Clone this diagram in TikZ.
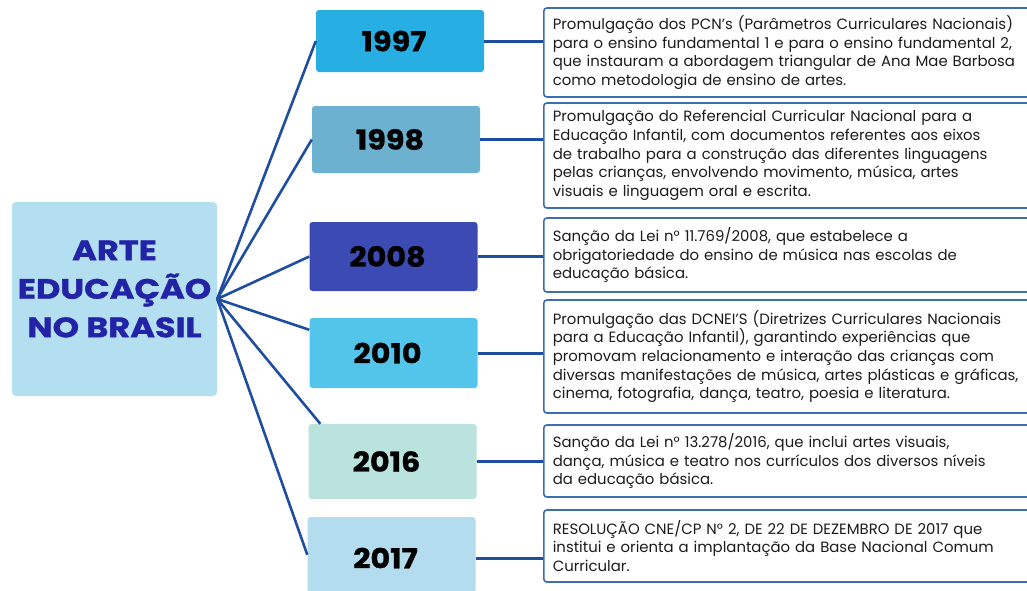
\documentclass[tikz,border=0pt]{standalone}
\usepackage{fontspec}
\setmainfont{Poppins}
\newfontfamily\titlefont{Poppins}[FakeStretch=1.2, FakeBold=1.2]
\newfontfamily\yearfont{Poppins}[FakeStretch=1.1, FakeBold=1]
\usetikzlibrary{calc}
\definecolor{c1997}{HTML}{27AEE2}
\definecolor{c1998}{HTML}{6CB2D0}
\definecolor{c2008}{HTML}{3C4AB3}
\definecolor{c2010}{HTML}{53C5EB}
\definecolor{c2016}{HTML}{B9E3DC}
\definecolor{c2017}{HTML}{B3DCEF}
\definecolor{ccentral}{HTML}{B3DFF0}
\definecolor{ctitle}{HTML}{2323A8}
\definecolor{cline}{HTML}{1F4EA0}
\definecolor{cborder}{HTML}{3D6DB3}
\definecolor{ctext}{HTML}{1C1C1C}
\tikzset{
  yearbox/.style={rectangle, rounded corners=3pt, draw=none, minimum width=168pt,
    font=\yearfont\fontsize{27.5}{30}\selectfont\bfseries, text=black, inner sep=0pt,
    execute at end node={\kern12pt}},
  centralbox/.style={rectangle, rounded corners=4pt, fill=ccentral, minimum width=205pt,
    minimum height=194pt, inner sep=0pt},
  centraltext/.style={align=center, text=ctitle, font=\titlefont\fontsize{28}{38.5}\selectfont\bfseries, inner sep=0pt},
  descbox/.style={rectangle, rounded corners=3pt, draw=cborder, line width=1.6pt, fill=white,
    anchor=west, align=left, text width=560pt, inner xsep=9pt, inner ysep=0pt,
    text=ctext, font=\fontsize{14.9}{18.6}\selectfont},
  spoke/.style={draw=cline, line width=2.6pt},
  conn/.style={draw=cline, line width=3pt},
}
\begin{document}
\begin{tikzpicture}[x=1pt,y=-1pt]
\useasboundingbox (0,0) rectangle (1027,590);
\clip (0,0) rectangle (1027,590);
\fill[white] (0,0) rectangle (1027,590);

% central
\node[centralbox] (c) at (114.5,299) {};
\node[centraltext] (ct) at (114.5,289) {ARTE\\EDUCAÇÃO\\NO BRASIL};

% years
\node[yearbox, fill=c1997, minimum height=62pt] (y1997) at (400,41) {1997};
\node[yearbox, fill=c1998, minimum height=67pt] (y1998) at (396,139.5) {1998};
\node[yearbox, fill=c2008, minimum height=69pt] (y2008) at (393.5,256.5) {2008};
\node[yearbox, fill=c2010, minimum height=70pt] (y2010) at (393.5,353) {2010};
\node[yearbox, fill=c2016, minimum height=75pt] (y2016) at (392.5,461.5) {2016};
\node[yearbox, fill=c2017, minimum height=82pt] (y2017) at (391.5,558) {2017};

% descriptions
\node[descbox, minimum height=89pt] (d1) at (543,52.5) {Promulgação dos PCN's (Parâmetros Curriculares Nacionais)\\para o ensino fundamental 1 e para o ensino fundamental 2,\\que instauram a abordagem triangular de Ana Mae Barbosa\\como metodologia de ensino de artes.};
\node[descbox, minimum height=105pt] (d2) at (543,155.5) {Promulgação do Referencial Curricular Nacional para a\\Educação Infantil, com documentos referentes aos eixos\\de trabalho para a construção das diferentes linguagens\\pelas crianças, envolvendo movimento, música, artes\\visuais e linguagem oral e escrita.};
\node[descbox, minimum height=74pt] (d3) at (543,255) {Sanção da Lei n° 11.769/2008, que estabelece a\\obrigatoriedade do ensino de música nas escolas de\\educação básica.};
\node[descbox, minimum height=113pt] (d4) at (543,356.5) {Promulgação das DCNEI'S (Diretrizes Curriculares Nacionais\\para a Educação Infantil), garantindo experiências que\\promovam relacionamento e interação das crianças com\\diversas manifestações de música, artes plásticas e gráficas,\\cinema, fotografia, dança, teatro, poesia e literatura.};
\node[descbox, minimum height=72pt] (d5) at (543,461) {Sanção da Lei n° 13.278/2016, que inclui artes visuais,\\dança, música e teatro nos currículos dos diversos níveis\\da educação básica.};
\node[descbox, minimum height=72pt] (d6) at (543,546) {RESOLUÇÃO CNE/CP N° 2, DE 22 DE DEZEMBRO DE 2017 que\\institui e orienta a implantação da Base Nacional Comum\\Curricular.};

% spokes
\draw[spoke] (c.east) -- (y1997.west);
\draw[spoke] (c.east) -- (y1998.west);
\draw[spoke] (c.east) -- (y2008.west);
\draw[spoke] (c.east) -- ([yshift=-12pt]y2010.north west);
\draw[spoke] (c.east) -- ([xshift=12pt]y2016.north west);
\draw[spoke] (c.east) -- ([yshift=-38pt]y2017.north west);

% connectors
\draw[conn] (y1997.east) -- (y1997.east -| d1.west);
\draw[conn] (y1998.east) -- (y1998.east -| d2.west);
\draw[conn] (y2008.east) -- (y2008.east -| d3.west);
\draw[conn] (y2010.east) -- (y2010.east -| d4.west);
\draw[conn] (y2016.east) -- (y2016.east -| d5.west);
\draw[conn] (y2017.east) -- (y2017.east -| d6.west);
\end{tikzpicture}
\end{document}
